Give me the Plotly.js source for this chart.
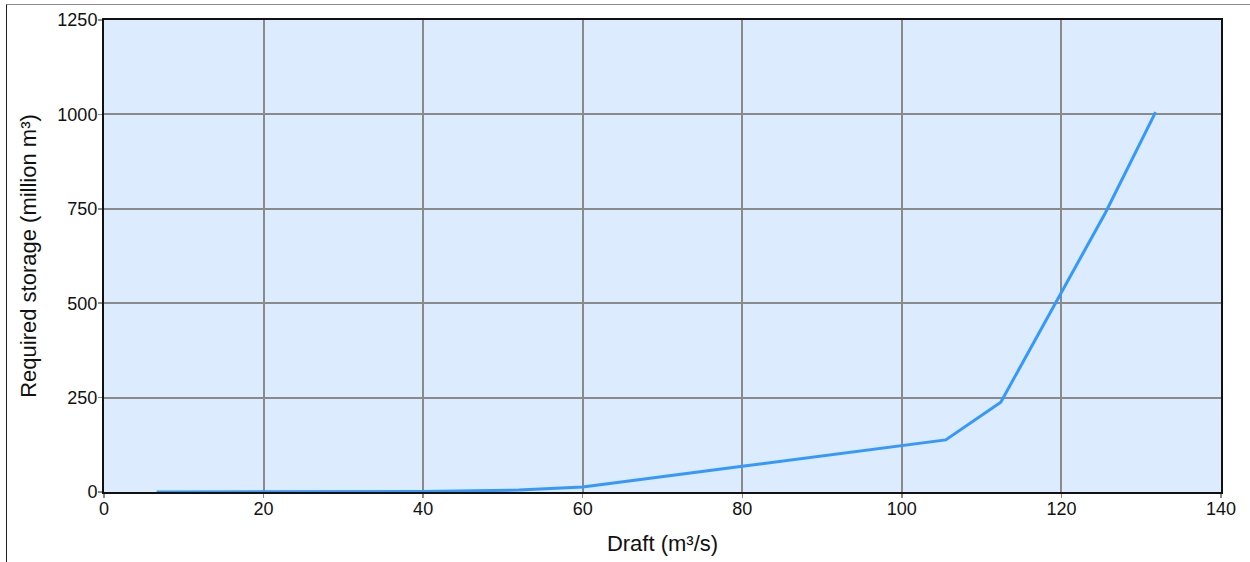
<!DOCTYPE html>
<html>
<head>
<meta charset="utf-8">
<script src="https://cdn.plot.ly/plotly-3.0.1.min.js"></script>
<style>
  html, body { margin: 0; padding: 0; background: #fff; }
  #frame {
    position: absolute; left: 6px; top: 4px; right: 0; bottom: 0;
    border-top: 1px solid #8a8a8a; border-left: 1px solid #222;
  }
  #chart { position: absolute; left: 0; top: 0; width: 1250px; height: 562px; }
</style>
</head>
<body>
<div id="frame"></div>
<div id="chart"></div>
<script>
// Storage–draft curve: required reservoir storage for each draft rate
const draft = [6.6, 20, 40, 52, 60, 80, 105.5, 112.4, 125.5, 131.8];            // m³/s
const storage = [0, 0, 1, 5, 13, 68, 138, 238, 739, 1006];                     // million m³

const xTicks = [0, 20, 40, 60, 80, 100, 120, 140];
const yTicks = [0, 250, 500, 750, 1000, 1250];

const font = { family: '"Liberation Sans", Arial, sans-serif', color: '#111' };

const trace = {
  x: draft,
  y: storage,
  type: 'scatter',
  mode: 'lines',
  line: { color: '#3399ff', width: 3 },
  hoverinfo: 'x+y'
};

const axisCommon = {
  showline: true, mirror: true, linecolor: '#111', linewidth: 2,
  showgrid: true, gridcolor: '#8a8a8a', gridwidth: 2,
  zeroline: false,
  ticks: 'outside', ticklen: 4, tickwidth: 1.5, tickcolor: '#8a8a8a',
  tickfont: Object.assign({ size: 18 }, font)
};

const layout = {
  width: 1250, height: 562,
  margin: { l: 104, r: 29, t: 20, b: 70 },
  paper_bgcolor: 'rgba(0,0,0,0)',
  plot_bgcolor: '#dcebfd',
  showlegend: false,
  font: font,
  xaxis: Object.assign({}, axisCommon, {
    range: [0, 140], tickvals: xTicks, ticktext: xTicks.map(String),
    ticklabelstandoff: -5,
    title: { text: 'Draft (m³/s)', font: Object.assign({ size: 22 }, font), standoff: 18 }
  }),
  yaxis: Object.assign({}, axisCommon, {
    range: [0, 1250], tickvals: yTicks, ticktext: yTicks.map(String),
    ticklabelstandoff: -3,
    title: { text: 'Required storage (million m³)', font: Object.assign({ size: 22 }, font), standoff: 15 }
  })
};

Plotly.newPlot('chart', [trace], layout, { displayModeBar: false, staticPlot: true });
</script>
</body>
</html>
